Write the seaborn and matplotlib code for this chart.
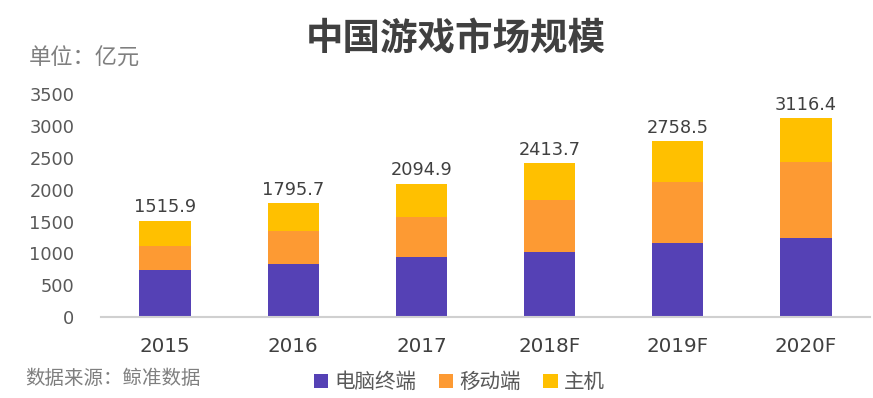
import matplotlib
matplotlib.use("Agg")
import matplotlib.pyplot as plt
import seaborn as sns
import pandas as pd
import numpy as np
from matplotlib.patches import Patch

years = ["2015", "2016", "2017", "2018F", "2019F", "2020F"]
pc = [741, 840, 950, 1023, 1165, 1243]
mobile = [376, 513, 627, 815, 956, 1191]
console = [398.9, 442.7, 517.9, 575.7, 637.5, 682.4]
totals = [1515.9, 1795.7, 2094.9, 2413.7, 2758.5, 3116.4]
series_names = ["电脑终端", "移动端", "主机"]
colors = ["#5541B5", "#FD9A33", "#FFC000"]
yticks = [0, 500, 1000, 1500, 2000, 2500, 3000, 3500]

sns.set_theme(style="white")
plt.rcParams["font.family"] = ["Noto Sans CJK SC", "DejaVu Sans"]

df = pd.DataFrame({"year": years, "pc": pc, "mobile": mobile, "console": console})
df["lvl1"] = df["pc"]
df["lvl2"] = df["pc"] + df["mobile"]
df["lvl3"] = df["lvl2"] + df["console"]

fig = plt.figure(figsize=(8.73, 3.98), dpi=100)
ax = fig.add_axes([0.1157, 0.2028, 0.881, 0.561])

sns.barplot(data=df, x="year", y="lvl3", color=colors[2], width=0.4, saturation=1, ax=ax, linewidth=0)
sns.barplot(data=df, x="year", y="lvl2", color=colors[1], width=0.4, saturation=1, ax=ax, linewidth=0)
sns.barplot(data=df, x="year", y="lvl1", color=colors[0], width=0.4, saturation=1, ax=ax, linewidth=0)

ax.bar_label(ax.containers[0], labels=[f"{t:.1f}" for t in totals], padding=3,
             fontsize=12.8, color="#404040", family=["DejaVu Sans"])

ax.set_ylim(0, 3500)
ax.set_yticks(yticks)
ax.set_xlim(-0.5, 5.5)
ax.set_xlabel("")
ax.set_ylabel("")
for s in ["top", "right", "left"]:
    ax.spines[s].set_visible(False)
ax.spines["bottom"].set_color("#D0D0D0")
ax.spines["bottom"].set_linewidth(1.5)
ax.tick_params(axis="y", length=0, pad=19, labelsize=12.8, labelcolor="#595959")
ax.tick_params(axis="x", length=0, pad=14, labelsize=14.3, labelcolor="#404040")
for lbl in ax.get_yticklabels() + ax.get_xticklabels():
    lbl.set_family(["DejaVu Sans"])

fig.text(0.522, 0.905, "中国游戏市场规模", ha="center", va="center", fontsize=27,
         fontweight="bold", color="#404040")
fig.text(0.033, 0.853, "单位：亿元", ha="left", va="center", fontsize=16, color="#7F7F7F")
fig.text(0.029, 0.05, "数据来源：鲸准数据", ha="left", va="center", fontsize=14, color="#7F7F7F")

handles = [Patch(facecolor=c, edgecolor="none", label=n) for c, n in zip(colors, series_names)]
fig.legend(handles=handles, loc="center", bbox_to_anchor=(0.526, 0.04), ncol=3, frameon=False,
           fontsize=14.8, handlelength=0.7, handleheight=0.7, handletextpad=0.3,
           columnspacing=1.1, labelcolor="#595959")

fig.savefig("out.png", dpi=100)
